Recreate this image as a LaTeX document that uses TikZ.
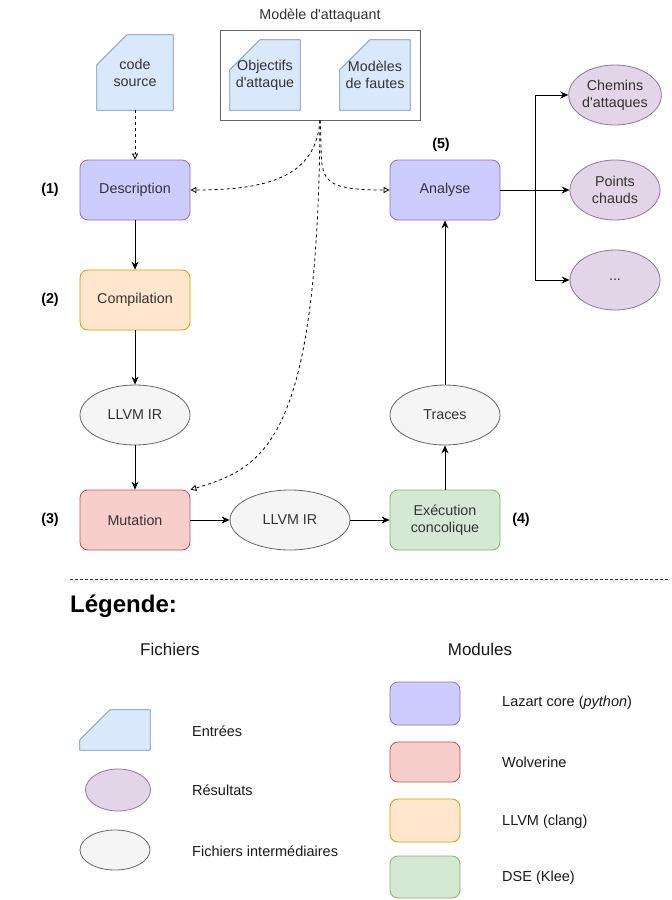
\documentclass[tikz,border=0pt]{standalone}
\usepackage{fontspec}
\setmainfont{Liberation Sans}[Ligatures=TeXOff]
\usetikzlibrary{arrows.meta,backgrounds,calc,shapes.geometric}
\definecolor{docfill}{HTML}{DAE8FC}
\definecolor{docline}{HTML}{6C8EBF}
\definecolor{purfill}{HTML}{CCCCFF}
\definecolor{purline}{HTML}{9966CC}
\definecolor{resfill}{HTML}{E1D5E7}
\definecolor{resline}{HTML}{9673A6}
\definecolor{grayfill}{HTML}{F5F5F5}
\definecolor{grayline}{HTML}{666666}
\definecolor{redfill}{HTML}{F8CECC}
\definecolor{redline}{HTML}{B85450}
\definecolor{orafill}{HTML}{FFE6CC}
\definecolor{oraline}{HTML}{D79B00}
\definecolor{grnfill}{HTML}{D5E8D4}
\definecolor{grnline}{HTML}{82B366}
\definecolor{txt}{HTML}{333333}
\tikzset{
  base/.style={font=\fontsize{14.3}{17}\selectfont, text=txt, align=center, inner sep=0pt},
  modbox/.style={base, rectangle, rounded corners=8pt, minimum width=110pt, minimum height=60pt, line width=0.8pt},
  purbox/.style={modbox, fill=purfill, draw=purline},
  redbox/.style={modbox, fill=redfill, draw=redline},
  orabox/.style={modbox, fill=orafill, draw=oraline},
  grnbox/.style={modbox, fill=grnfill, draw=grnline},
  resell/.style={base, ellipse, fill=resfill, draw=resline, line width=0.8pt, minimum width=90pt, minimum height=60pt},
  grayell/.style={base, ellipse, fill=grayfill, draw=grayline, line width=0.8pt, minimum width=110pt, minimum height=60pt},
  docnode/.style={base, rectangle, draw=none},
  docpath/.style={fill=docfill, draw=docline, line width=0.8pt},
  numlabel/.style={font=\bfseries\fontsize{14.3}{17}\selectfont, text=black, inner sep=0pt},
  leglabel/.style={font=\fontsize{14.5}{17}\selectfont, text=black!90, anchor=west, inner sep=0pt},
  flow/.style={-{Stealth[length=8pt,width=7pt]}, line width=0.8pt, black},
  dflow/.style={-{Triangle[open,length=6pt,width=6pt]}, line width=0.8pt, black, dash pattern=on 3pt off 3pt},
}
\begin{document}
\begin{tikzpicture}[x=1pt,y=-1pt]
\useasboundingbox (0,0) rectangle (672,900);
% top
\node[base] (mtitle) at (320,16) {Modèle d'attaquant};
\node[docnode, minimum width=76pt, minimum height=75pt] (cs) at (135,72.5) {code\\source};
\node[docnode, minimum width=70pt, minimum height=70pt] (obj) at (265,75) {Objectifs\\d'attaque};
\node[docnode, minimum width=70pt, minimum height=70pt] (mod) at (375,75) {Modèles\\de fautes};
\begin{scope}[on background layer]
  \node[rectangle, minimum width=200pt, minimum height=90pt, draw=grayline, fill=white, line width=0.8pt, inner sep=0pt] (mbox) at (320,75) {};
  \foreach \n in {cs,obj,mod}{
    \draw[docpath] ($(\n.north west)+(0,30)$) -- ($(\n.north west)+(30,0)$) -- (\n.north east) -- (\n.south east) -- (\n.south west) -- cycle;
  }
\end{scope}
% modules
\node[purbox] (desc) at (135,190) {Description};
\node[orabox] (comp) at (135,300) {Compilation};
\node[grayell] (ir1) at (135,415) {LLVM IR};
\node[redbox] (mut) at (135,520) {Mutation};
\node[grayell, minimum width=120pt] (ir2) at (290,520) {LLVM IR};
\node[grnbox] (exe) at (445,520) {Exécution\\concolique};
\node[grayell] (tr) at (445,415) {Traces};
\node[purbox] (ana) at (445,190) {Analyse};
\node[resell] (ch) at (615,95) {Chemins\\d'attaques};
\node[resell] (pc) at (615,190) {Points\\chauds};
\node[resell] (dots) at (615,280) {...};
% numbers
\node[numlabel] (n1) at (50,190) {(1)};
\node[numlabel] (n2) at (50,300) {(2)};
\node[numlabel] (n3) at (50,520) {(3)};
\node[numlabel] (n4) at (521,520) {(4)};
\node[numlabel] (n5) at (441,145) {(5)};
% connectors
\draw[dflow] (cs.south) -- (desc.north);
\draw[dflow] (mbox.south) .. controls +(-4,55) and +(80,0) .. (desc.east);
\draw[dflow] (mbox.south) .. controls +(4,55) and +(-80,0) .. (ana.west);
\draw[dflow] (mbox.south) .. controls +(-2,320) and +(75,-22) .. (mut.north east);
\draw[flow] (desc) -- (comp);
\draw[flow] (comp) -- (ir1);
\draw[flow] (ir1) -- (mut);
\draw[flow] (mut) -- (ir2);
\draw[flow] (ir2) -- (exe);
\draw[flow] (exe) -- (tr);
\draw[flow] (tr) -- (ana);
\draw[flow] (ana.east) -- ++(35,0) |- (ch.west);
\draw[flow] (ana.east) -- (pc.west);
\draw[flow] (ana.east) -- ++(35,0) |- (dots.west);
% separator
\coordinate (sepL) at (70,579);
\coordinate (sepR) at (668,579);
\draw[line width=0.8pt, txt, dash pattern=on 3pt off 2pt] (sepL) -- (sepR);
% legend
\node[font=\bfseries\fontsize{24}{28}\selectfont, anchor=west, inner sep=0pt] (leg) at (70,606) {Légende:};
\node[font=\fontsize{17}{20}\selectfont, text=black!90, inner sep=0pt] (fich) at (170,649) {Fichiers};
\node[font=\fontsize{17}{20}\selectfont, text=black!90, inner sep=0pt] (modl) at (480,649) {Modules};
\node[docnode, minimum width=70pt, minimum height=40pt] (lin) at (115,730) {};
\begin{scope}[on background layer]
  \draw[docpath] ($(lin.north west)+(0,30)$) -- ($(lin.north west)+(30,0)$) -- (lin.north east) -- (lin.south east) -- (lin.south west) -- cycle;
\end{scope}
\node[resell, minimum width=65pt, minimum height=42pt] (lres) at (118,790) {};
\node[grayell, minimum width=70pt, minimum height=40pt] (lint) at (115,850) {};
\node[leglabel] (tin) at (192,731) {Entrées};
\node[leglabel] (tres) at (192,790) {Résultats};
\node[leglabel] (tint) at (192,851) {Fichiers intermédiaires};
\node[purbox, minimum width=70pt, minimum height=43pt] (lpur) at (425,703.5) {};
\node[redbox, minimum width=70pt, minimum height=40pt] (lred) at (425,762) {};
\node[orabox, minimum width=70pt, minimum height=43pt] (lora) at (425,820.5) {};
\node[grnbox, minimum width=70pt, minimum height=42pt] (lgrn) at (425,877) {};
\node[leglabel] (tpur) at (502,703) {Lazart core (\textit{python})};
\node[leglabel] (tred) at (502,762) {Wolverine};
\node[leglabel] (tora) at (502,822) {LLVM (clang)};
\node[leglabel] (tgrn) at (502,878) {DSE (Klee)};
\end{tikzpicture}
\end{document}
